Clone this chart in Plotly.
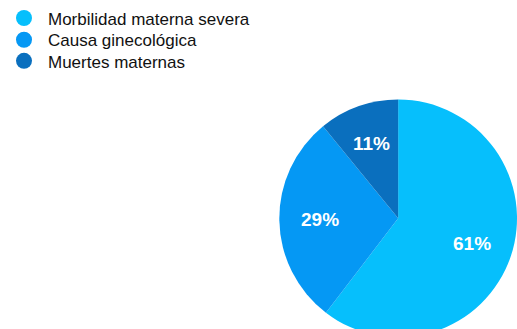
import math
import plotly.graph_objects as go

labels = ["Morbilidad materna severa", "Causa ginecológica", "Muertes maternas"]
values = [61, 29, 11]
text_labels = ["61%", "29%", "11%"]
colors = ["#06BFFC", "#0598F4", "#0A6FBE"]

W, H = 517, 345
cx, cy, r = 397, 218, 120
label_frac = 0.66
legend_rows = [17.5, 39.3, 60.5]  # row centres in px from top

fig = go.Figure()
fig.add_trace(go.Pie(
    labels=labels, values=values,
    textinfo="none",
    sort=False, direction="clockwise", rotation=0,
    marker=dict(colors=colors, line=dict(width=0)),
    showlegend=False, hoverinfo="label+percent",
    domain=dict(x=[(cx - r) / W, min(1, (cx + r) / W)],
                y=[(H - cy - r) / H, (H - cy + r) / H]),
))

# slice labels placed at mid-angle of each slice (computed from the values)
total = sum(values)
cum = 0
for v, t in zip(values, text_labels):
    mid = (cum + v / 2) / total * 2 * math.pi
    cum += v
    d = label_frac * r
    fig.add_annotation(
        x=(cx + d * math.sin(mid)) / W, y=(H - cy + d * math.cos(mid)) / H,
        xref="paper", yref="paper", xanchor="center", yanchor="middle",
        text=t, showarrow=False,
        font=dict(color="white", size=19, family="Liberation Sans", weight="bold"),
    )

legend_names = ["legend", "legend2", "legend3"]
for lab, col, lg in zip(labels, colors, legend_names):
    fig.add_trace(go.Scatter(
        x=[None], y=[None], mode="markers", name=lab, legend=lg,
        marker=dict(symbol="circle", size=17, color=col),
    ))

legend_style = dict(xanchor="left", yanchor="middle",
                    font=dict(size=17, color="#111111", family="Liberation Sans"),
                    itemwidth=38, bgcolor="rgba(0,0,0,0)", borderwidth=0)
layout_legends = {}
for lg, row in zip(legend_names, legend_rows):
    layout_legends[lg] = dict(x=-0.01, y=1 - row / H, **legend_style)

fig.update_layout(
    width=W, height=H,
    margin=dict(l=0, r=0, t=0, b=0),
    paper_bgcolor="white", plot_bgcolor="white",
    xaxis=dict(visible=False), yaxis=dict(visible=False),
    **layout_legends,
)
fig.write_html("out.html")
